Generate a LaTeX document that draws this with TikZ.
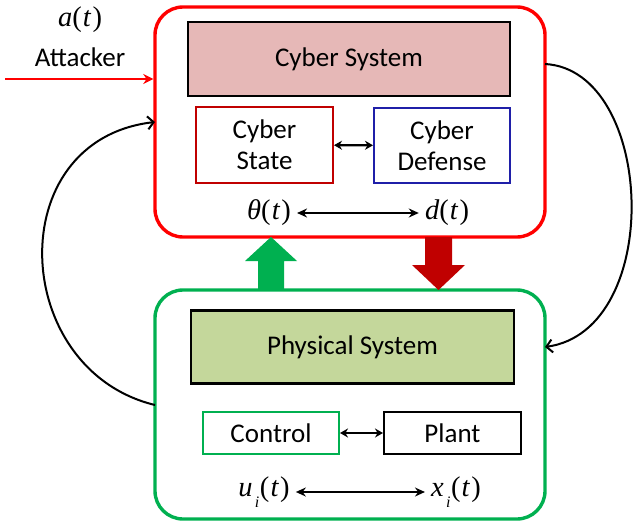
\documentclass[tikz,border=0pt]{standalone}
\usepackage{fontspec}
\setmainfont{Carlito}
\newfontfamily\sigfont{Liberation Serif}
\usetikzlibrary{arrows.meta}

\definecolor{cybred}{HTML}{FF0000}
\definecolor{darkred}{HTML}{C00000}
\definecolor{physgreen}{HTML}{00B050}
\definecolor{cybfill}{HTML}{E6B8B7}
\definecolor{physfill}{HTML}{C4D79B}
\definecolor{defblue}{HTML}{1F1FA8}

% signal labels such as a(t), u_i(t)
\newcommand{\sig}[1]{{\sigfont\fontsize{28.5}{30}\selectfont{\itshape #1}(\kern0.04em{\itshape t}\kern0.06em)}}
\newcommand{\sigsub}[2]{{\sigfont\fontsize{28.5}{30}\selectfont{\itshape #1}\kern0.08em\raisebox{-0.38em}{\fontsize{16}{16}\selectfont\itshape #2}\kern0.02em(\kern0.04em{\itshape t}\kern0.06em)}}

\begin{document}
\begin{tikzpicture}[x=1pt,y=-1pt,
  font=\fontsize{27}{31}\selectfont,
  outerbox/.style={draw, line width=3.4pt, rounded corners=28pt, inner sep=0pt},
  sysbox/.style={draw=black, line width=2.4pt, inner sep=0pt},
  subbox/.style={draw, line width=2pt, fill=white, inner sep=0pt, align=center},
  link/.style={line width=2.2pt, {Stealth[length=8pt,width=9pt]}-{Stealth[length=8pt,width=9pt]}},
  sigarrow/.style={line width=2.2pt, {Stealth[length=10pt,width=9pt]}-{Stealth[length=10pt,width=9pt]}},
  loop/.style={line width=2pt, -{Straight Barb[length=6pt,width=13pt]}}
]
\useasboundingbox (0,0) rectangle (635,524);

% outer containers
\node[outerbox, draw=cybred, minimum width=390pt, minimum height=230pt] (cyber) at (350,122) {};
\node[outerbox, draw=physgreen, minimum width=390pt, minimum height=229pt] (phys) at (350,404.5) {};

% cyber side
\node[sysbox, fill=cybfill, minimum width=322pt, minimum height=74pt] (cybsys) at (349,59) {Cyber System};
\node[subbox, draw=darkred, minimum width=137pt, minimum height=76pt] (cstate) at (264.5,145) {Cyber\\State};
\node[subbox, draw=defblue, minimum width=136pt, minimum height=75pt] (cdef) at (442,145.5) {Cyber\\Defense};
\draw[link] (cstate) -- (cdef);

\node[inner sep=0pt] (theta) at (269,213) {\sig{θ}};
\node[inner sep=0pt] (dsig) at (447,213) {\sig{d}};
\draw[sigarrow] ([xshift=6pt]theta.east) -- ([xshift=-6pt]dsig.west);

% physical side
\node[sysbox, fill=physfill, minimum width=323pt, minimum height=73pt] (psys) at (352.5,347) {Physical System};
\node[subbox, draw=physgreen, minimum width=136pt, minimum height=42pt] (control) at (271,433) {Control};
\node[subbox, draw=black, minimum width=137pt, minimum height=42pt] (plant) at (452.5,433) {Plant};
\draw[link] (control) -- (plant);

\node[inner sep=0pt] (usig) at (264,492) {\sigsub{u}{i}};
\node[inner sep=0pt] (xsig) at (456,492) {\sigsub{x}{i}};
\draw[sigarrow] ([xshift=6pt]usig.east) -- ([xshift=-6pt]xsig.west);

% attacker input
\node[inner sep=0pt] (aat) at (80,20) {\sig{a}};
\node[inner sep=0pt] (attacker) at (80,57) {Attacker};
\coordinate (atksrc) at (5,79);
\draw[cybred, line width=2.4pt, -{Stealth[length=10pt,width=10pt]}] (atksrc) -- (cyber.west |- atksrc);

% wide arrows between the layers
\fill[physgreen] (258,290) -- (258,261) -- (245,261) -- (271,237) -- (297,261) -- (284,261) -- (284,290) -- cycle;
\fill[darkred] (425,237) -- (425,265) -- (412,265) -- (438.5,290) -- (465,265) -- (452,265) -- (452,237) -- cycle;

% feedback loops
\coordinate (ploopout) at (155,405);
\coordinate (cloopin) at (155,122);
\coordinate (cloopout) at (545,64);
\coordinate (ploopin) at (545,347);
\draw[loop] (ploopout) .. controls (10,370) and (0,140) .. (cloopin);
\draw[loop] (cloopout) .. controls (655,70) and (665,330) .. (ploopin);
\end{tikzpicture}
\end{document}
